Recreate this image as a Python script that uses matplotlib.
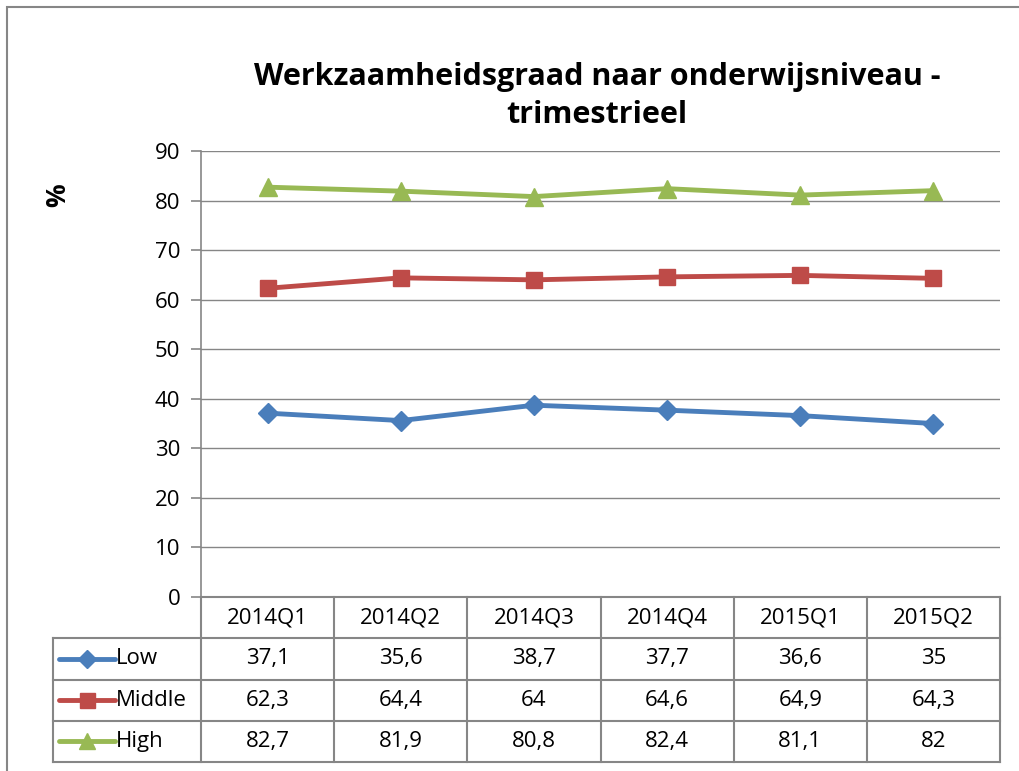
import matplotlib
matplotlib.use("Agg")
import matplotlib.pyplot as plt
from matplotlib.patches import Rectangle

categories = ["2014Q1", "2014Q2", "2014Q3", "2014Q4", "2015Q1", "2015Q2"]
series_names = ["Low", "Middle", "High"]
low = [37.1, 35.6, 38.7, 37.7, 36.6, 35.0]
middle = [62.3, 64.4, 64.0, 64.6, 64.9, 64.3]
high = [82.7, 81.9, 80.8, 82.4, 81.1, 82.0]
table_labels = {
    "Low": ["37,1", "35,6", "38,7", "37,7", "36,6", "35"],
    "Middle": ["62,3", "64,4", "64", "64,6", "64,9", "64,3"],
    "High": ["82,7", "81,9", "80,8", "82,4", "81,1", "82"],
}
yticks = [0, 10, 20, 30, 40, 50, 60, 70, 80, 90]
title = "Werkzaamheidsgraad naar onderwijsniveau -\ntrimestrieel"

colors = {"Low": "#4A7EBB", "Middle": "#BE4B48", "High": "#98B954"}
markers = {"Low": "D", "Middle": "s", "High": "^"}
msizes = {"Low": 10, "Middle": 12, "High": 13}
data = {"Low": low, "Middle": middle, "High": high}

plt.rcParams["font.family"] = ["Open Sans", "DejaVu Sans"]
FS = 16
W, H = 1019, 771
fig = plt.figure(figsize=(W / 100, H / 100), dpi=100)

def fx(px):
    return px / W

def fy(py):
    return 1 - py / H

# outer frame
fig.add_artist(Rectangle((fx(7), fy(900)), fx(1100), (900 - 7) / H, transform=fig.transFigure,
                         fill=False, edgecolor="#868686", lw=1.5))

L, R, T, B = 201, 1000, 151, 597
ax = fig.add_axes([fx(L), fy(B), fx(R - L), (B - T) / H])
n = len(categories)
xs = list(range(n))
ax.set_xlim(-0.5, n - 0.5)
ax.set_ylim(0, 90)
ax.set_yticks(yticks)
ax.set_yticklabels([str(v) for v in yticks], fontsize=FS)
ax.yaxis.grid(True, color="#868686", lw=1)
ax.set_axisbelow(True)
ax.set_xticks([])
for s in ["top", "right", "bottom"]:
    ax.spines[s].set_visible(False)
ax.spines["left"].set_color("#868686")
ax.spines["left"].set_linewidth(1.2)
ax.tick_params(axis="y", length=7, color="#868686", width=1.2, pad=8)

for name in series_names:
    ax.plot(xs, data[name], color=colors[name], lw=3.5, marker=markers[name],
            markersize=msizes[name], markeredgecolor=colors[name], zorder=3, clip_on=False)

fig.text(fx(597), fy(96), title, ha="center", va="center", fontsize=22, fontweight="bold",
         linespacing=1.35)
fig.text(fx(58), fy(195), "%", rotation=90, ha="center", va="center", fontsize=19, fontweight="bold")

# data table
TL, TB = 53, 762
colw = (R - L) / n
x_left = -0.5 - (L - TL) / colw
tax = fig.add_axes([fx(TL), fy(TB), fx(R - TL), (TB - B) / H])
tax.set_xlim(x_left, n - 0.5)
tax.set_ylim(4, 0)
tax.axis("off")
gc = "#868686"
lw = 1.5
# horizontal lines
tax.plot([-0.5, n - 0.5], [0, 0], color=gc, lw=lw, clip_on=False)
for r in [1, 2, 3, 4]:
    tax.plot([x_left, n - 0.5], [r, r], color=gc, lw=lw, clip_on=False)
# vertical lines
for c in range(n + 1):
    tax.plot([c - 0.5, c - 0.5], [0, 4], color=gc, lw=lw, clip_on=False)
tax.plot([x_left, x_left], [1, 4], color=gc, lw=lw, clip_on=False)

for i, cat in enumerate(categories):
    tax.text(i, 0.5, cat, ha="center", va="center", fontsize=FS)
for r, name in enumerate(series_names, start=1):
    for i, lab in enumerate(table_labels[name]):
        tax.text(i, r + 0.5, lab, ha="center", va="center", fontsize=FS)
    lx0 = x_left + 6 / colw
    lx1 = x_left + 62 / colw
    tax.plot([lx0, lx1], [r + 0.5, r + 0.5], color=colors[name], lw=3.5, solid_capstyle="round")
    tax.plot([(lx0 + lx1) / 2], [r + 0.5], marker=markers[name], color=colors[name],
             markersize=msizes[name] * 0.9, markeredgecolor=colors[name])
    tax.text(x_left + 63 / colw, r + 0.5, name, ha="left", va="center", fontsize=FS)

fig.savefig("out.png", dpi=100)
